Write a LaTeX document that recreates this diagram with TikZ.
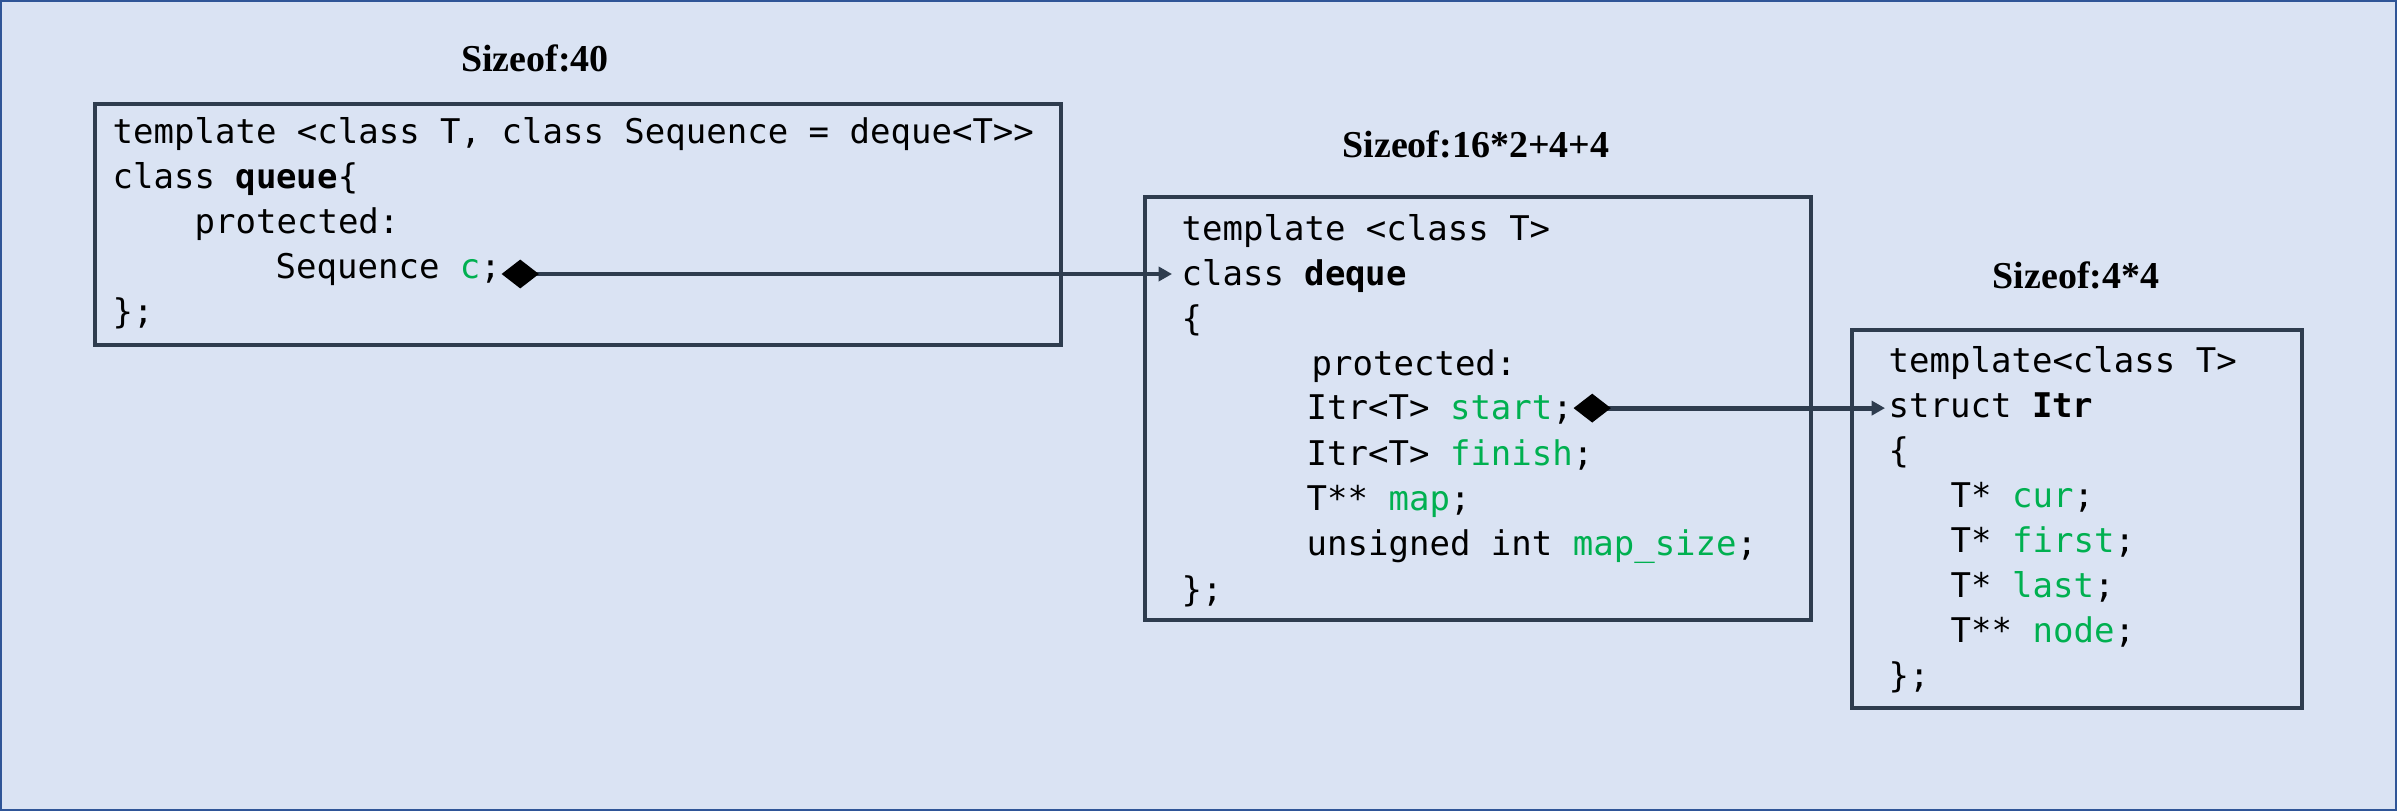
\documentclass[tikz,border=0pt]{standalone}
\usepackage{fontspec}
\setmainfont{Liberation Serif}
\setmonofont{DejaVu Sans Mono}
\usepackage{xcolor}
\usetikzlibrary{arrows.meta}
\definecolor{bgblue}{HTML}{DAE3F3}
\definecolor{frameblue}{HTML}{2F5597}
\definecolor{slate}{HTML}{2E3C4E}
\definecolor{codegreen}{HTML}{00B050}
\newcommand{\fld}[1]{\textcolor{codegreen}{#1}}

\begin{document}
\begin{tikzpicture}[x=0.01cm,y=-0.01cm,
    codebox/.style={draw=slate,line width=0.95pt},
    code/.style={anchor=base west,inner sep=0pt,font=\ttfamily\fontsize{9.67pt}{12pt}\selectfont},
    sizelabel/.style={anchor=base,inner sep=0pt,font=\bfseries\fontsize{10.8pt}{13pt}\selectfont},
    assoc/.style={slate,line width=1.4pt,
      {Diamond[length=10.6pt,width=8.2pt,color=black,fill=black]}-{Triangle[length=3.8pt,width=4pt]}}]
    \useasboundingbox (0,0) rectangle (2397,811);
    \fill[bgblue] (0,0) rectangle (2397,811);
    \draw[frameblue,line width=0.57pt] (1,1) rectangle (2396,810);
    % queue
    \node[sizelabel] (szq) at (535,71) {Sizeof:40};
    \draw[codebox] (95,104) rectangle (1061,345);
    \node[code] (q1) at (112,143) {template <class T, class Sequence = deque<T>>};
    \node[code] (q2) at (112,188) {class \textbf{queue}\{};
    \node[code] (q3) at (194,233) {protected:};
    \node[code] (q4) at (275,278) {Sequence \fld{c};};
    \node[code] (q5) at (112,323) {\};};
    % deque
    \node[sizelabel] (szd) at (1476,157) {Sizeof:16*2+4+4};
    \draw[codebox] (1145,197) rectangle (1811,620);
    \node[code] (d1) at (1181,240) {template <class T>};
    \node[code] (d2) at (1181,285) {class \textbf{deque}};
    \node[code] (d3) at (1181,330) {\{};
    \node[code] (d4) at (1311,375) {protected:};
    \node[code] (d5) at (1306,419) {Itr<T> \fld{start};};
    \node[code] (d6) at (1306,465) {Itr<T> \fld{finish};};
    \node[code] (d7) at (1306,510) {T** \fld{map};};
    \node[code] (d8) at (1306,555) {unsigned int \fld{map\_size};};
    \node[code] (d9) at (1181,601) {\};};
    % Itr
    \node[sizelabel] (szi) at (2076,288) {Sizeof:4*4};
    \draw[codebox] (1852,330) rectangle (2302,708);
    \node[code] (i1) at (1888,372) {template<class T>};
    \node[code] (i2) at (1888,417) {struct \textbf{Itr}};
    \node[code] (i3) at (1888,462) {\{};
    \node[code] (i4) at (1950,507) {T* \fld{cur};};
    \node[code] (i5) at (1950,552) {T* \fld{first};};
    \node[code] (i6) at (1950,597) {T* \fld{last};};
    \node[code] (i7) at (1950,642) {T** \fld{node};};
    \node[code] (i8) at (1888,687) {\};};
    % links
    \coordinate (s1) at ([yshift=1.14pt]q4.base east);
    \coordinate (s2) at ([yshift=3.1pt]d5.base east);
    \draw[assoc,shorten >=2.56pt] (s1) -- (s1 -| d2.west);
    \draw[assoc,shorten >=0.85pt] (s2) -- (s2 -| i2.west);
\end{tikzpicture}
\end{document}
